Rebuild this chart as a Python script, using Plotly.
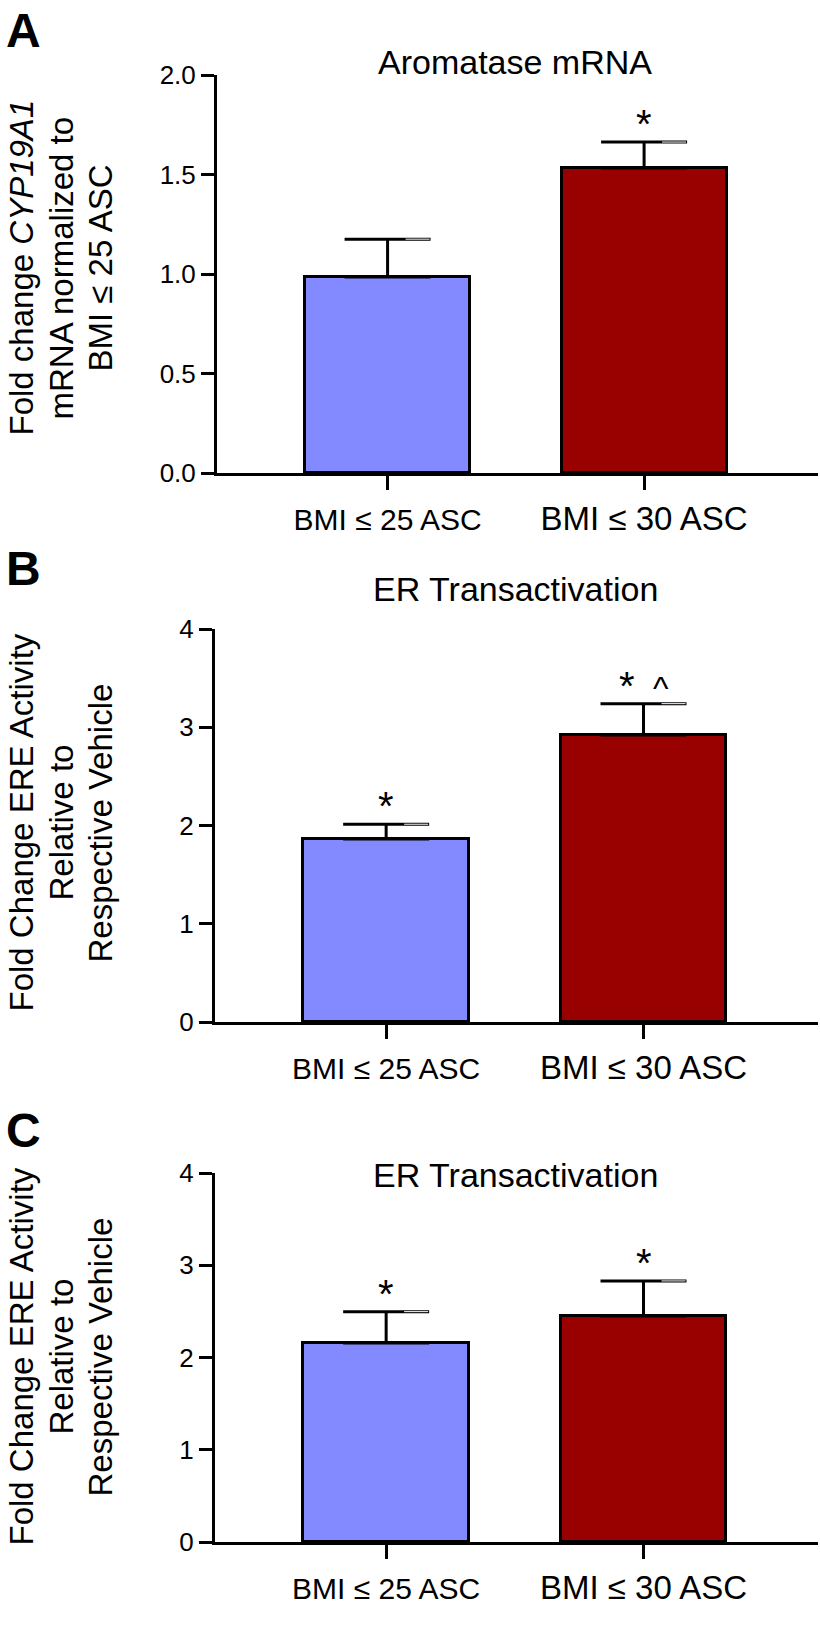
import plotly.graph_objects as go

# ---- data ----
categories = ["BMI ≤ 25 ASC", "BMI ≤ 30 ASC"]
bar_colors = ["#8389FF", "#990000"]

titles = ["Aromatase mRNA", "ER Transactivation", "ER Transactivation"]
panel_letters = ["A", "B", "C"]
y_title_lines = [
    ["Fold change <i>CYP19A1</i>", "mRNA normalized to", "BMI ≤ 25 ASC"],
    ["Fold Change ERE Activity", "Relative to", "Respective Vehicle"],
    ["Fold Change ERE Activity", "Relative to", "Respective Vehicle"],
]

values_a = [0.985, 1.533]
errors_a = [0.19, 0.13]
stars_a = ["", "*"]

values_b = [1.863, 2.92]
errors_b = [0.15, 0.32]
stars_b = ["*", '*<span style="font-size:33px">&nbsp;&nbsp;^</span>']

values_c = [2.157, 2.45]
errors_c = [0.34, 0.38]
stars_c = ["*", "*"]

yticks_a = [0, 0.5, 1.0, 1.5, 2.0]
yticklabels_a = ["0.0", "0.5", "1.0", "1.5", "2.0"]
yticks_bc = [0, 1, 2, 3, 4]
yticklabels_bc = ["0", "1", "2", "3", "4"]

# ---- layout helpers ----
W, H = 820, 1645
FONT = "Liberation Sans, Arial, Helvetica, sans-serif"
X_RANGE = [-0.665, 1.678]
BAR_WIDTH = 0.643
CAP_HALF_PX = 43


def px_x(p):
    return p / W


def px_y(p):
    return 1 - p / H


panels = [
    dict(vals=values_a, errs=errors_a, stars=stars_a, ymax=2.0, yt=yticks_a, ytl=yticklabels_a,
         top=75, bottom=473, left=217, title_y=62, letter_y=2, ytitle_y=268),
    dict(vals=values_b, errs=errors_b, stars=stars_b, ymax=4.0, yt=yticks_bc, ytl=yticklabels_bc,
         top=629, bottom=1022, left=215, title_y=589, letter_y=540, ytitle_y=823),
    dict(vals=values_c, errs=errors_c, stars=stars_c, ymax=4.0, yt=yticks_bc, ytl=yticklabels_bc,
         top=1173, bottom=1542, left=215, title_y=1175, letter_y=1102, ytitle_y=1357),
]
ytitle_line_left = [0, 40, 79]

xpos = list(range(len(categories)))
tick_text = [
    '<span style="font-size:30px">%s</span>' % categories[0],
    categories[1],
]

fig = go.Figure()
annotations = []

for i, p in enumerate(panels):
    n = "" if i == 0 else str(i + 1)
    xa, ya = "x" + n, "y" + n
    fig.add_trace(go.Bar(
        x=xpos, y=p["vals"], width=BAR_WIDTH,
        marker=dict(color=bar_colors, line=dict(color="black", width=3)),
        error_y=dict(type="data", array=p["errs"], arrayminus=[0] * len(p["errs"]),
                     symmetric=False, color="black", thickness=3, width=CAP_HALF_PX),
        xaxis=xa, yaxis=ya, showlegend=False, hoverinfo="skip",
    ))
    # thin white glint on the right half of each error-bar cap (as in the source image)
    px_per_unit = (818 - p["left"]) / (X_RANGE[1] - X_RANGE[0])
    glint_c = 30 / px_per_unit
    glint_h = 12 / px_per_unit
    fig.add_trace(go.Scatter(
        x=[xv + glint_c for xv in xpos],
        y=[v + e for v, e in zip(p["vals"], p["errs"])],
        mode="markers", marker=dict(size=1, color="rgba(0,0,0,0)"),
        error_x=dict(type="constant", value=glint_h, color="white", thickness=1, width=0),
        xaxis=xa, yaxis=ya, showlegend=False, hoverinfo="skip",
    ))
    fig.layout["xaxis" + n] = dict(
        domain=[px_x(p["left"]), px_x(818)], range=X_RANGE,
        tickvals=xpos, ticktext=tick_text, tickfont=dict(size=33, family=FONT, color="black"),
        showline=True, linecolor="black", linewidth=3, ticks="outside", tickcolor="black",
        tickwidth=3, ticklen=14, showgrid=False, zeroline=False, anchor=ya, fixedrange=True,
        automargin=False,
    )
    fig.layout["yaxis" + n] = dict(
        domain=[px_y(p["bottom"]), px_y(p["top"])], range=[0, p["ymax"]],
        tickvals=p["yt"], ticktext=p["ytl"], tickfont=dict(size=26, family=FONT, color="black"),
        showline=True, linecolor="black", linewidth=3, ticks="outside", tickcolor="black",
        tickwidth=3, ticklen=13, showgrid=False, zeroline=False, anchor=xa, fixedrange=True,
        automargin=False,
    )
    # panel title
    annotations.append(dict(text=titles[i], xref="paper", yref="paper", x=px_x(515),
                            y=px_y(p["title_y"]), xanchor="center", yanchor="middle",
                            showarrow=False, font=dict(size=34, family=FONT, color="black")))
    # panel letter
    annotations.append(dict(text="<b>%s</b>" % panel_letters[i], xref="paper", yref="paper",
                            x=px_x(4), y=px_y(p["letter_y"]), xanchor="left", yanchor="top",
                            showarrow=False, font=dict(size=48, family=FONT, color="black")))
    # y axis title, one annotation per line
    for k, line in enumerate(y_title_lines[i]):
        annotations.append(dict(text=line, xref="paper", yref="paper",
                                x=px_x(ytitle_line_left[k]), y=px_y(p["ytitle_y"]),
                                xanchor="left", yanchor="middle", textangle=-90,
                                showarrow=False,
                                font=dict(size=33, family=FONT, color="black")))
    # significance marks
    for j, s in enumerate(p["stars"]):
        if s:
            annotations.append(dict(text=s, xref=xa, yref=ya, x=xpos[j],
                                    y=p["vals"][j] + p["errs"][j], xanchor="center",
                                    yanchor="bottom", yshift=-6, showarrow=False,
                                    font=dict(size=40, family=FONT, color="black")))

fig.update_layout(
    width=W, height=H, margin=dict(l=0, r=0, t=0, b=0, autoexpand=False),
    paper_bgcolor="white", plot_bgcolor="white",
    font=dict(family=FONT, color="black"),
    annotations=annotations, bargap=0,
)

fig.write_html("out.html", config={"displayModeBar": False},
               post_script="document.body.style.margin='0';document.body.style.padding='0';")
